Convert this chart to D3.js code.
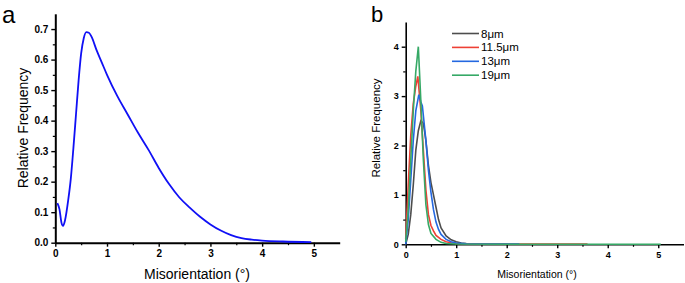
<!DOCTYPE html>
<html>
<head>
<meta charset="utf-8">
<script src="https://cdn.jsdelivr.net/npm/d3@7"></script>
<style>
  body { margin: 0; background: #fff; }
  svg text { font-family: "Liberation Sans", Arial, sans-serif; }
  .tick text { font-weight: bold; fill: #000; }
</style>
</head>
<body>
<div id="chart"></div>
<script>
// Width and height
var w = 685;
var h = 283;

// panel a: overall distribution
var aX = [0.04, 0.08, 0.12, 0.15, 0.19, 0.25, 0.30, 0.35, 0.40, 0.45, 0.50, 0.55, 0.60, 0.65, 0.70, 0.80, 0.90, 1.00,
          1.20, 1.40, 1.60, 1.80, 2.00, 2.20, 2.40, 2.60, 2.80, 3.00, 3.20, 3.40, 3.60, 3.80, 4.00, 4.40, 4.95];
var aY = [0.13, 0.11, 0.065, 0.055, 0.075, 0.14, 0.21, 0.31, 0.42, 0.53, 0.62, 0.67, 0.69, 0.688, 0.675, 0.63, 0.59, 0.55,
          0.48, 0.42, 0.36, 0.305, 0.245, 0.192, 0.148, 0.115, 0.085, 0.06, 0.04, 0.025, 0.015, 0.01, 0.007, 0.004, 0.002];

// panel b: by step size
var bNames = ["8\u03bcm", "11.5\u03bcm", "13\u03bcm", "19\u03bcm"];
var bColors = ["#4d4d4d", "#ee4035", "#2468e0", "#36a966"];

var b8x  = [0, 0.05, 0.1, 0.15, 0.2, 0.25, 0.3, 0.35, 0.4, 0.45, 0.5, 0.55, 0.6, 0.65, 0.7, 0.8, 0.9, 1.0, 1.1, 1.2, 1.5, 2.0];
var b8y  = [0, 0.2, 0.6, 1.2, 1.9, 2.3, 2.5, 2.45, 2.1, 1.6, 1.25, 1.0, 0.75, 0.5, 0.33, 0.17, 0.09, 0.05, 0.025, 0.015, 0.005, 0.002];
var b115x = [0, 0.05, 0.1, 0.15, 0.2, 0.24, 0.3, 0.35, 0.4, 0.45, 0.5, 0.55, 0.6, 0.7, 0.8, 0.9, 1.0, 1.2, 2.0, 3.6];
var b115y = [0.1, 1.2, 2.2, 2.85, 3.2, 3.4, 2.7, 1.9, 1.1, 0.6, 0.38, 0.27, 0.18, 0.1, 0.05, 0.03, 0.015, 0.01, 0.006, 0.005];
var b13x = [0, 0.05, 0.1, 0.15, 0.2, 0.26, 0.3, 0.33, 0.4, 0.45, 0.5, 0.55, 0.6, 0.65, 0.7, 0.8, 0.9, 1.0, 1.2, 2.25];
var b13y = [0, 0.5, 1.3, 2.1, 2.7, 3.03, 2.88, 2.8, 2.1, 1.5, 1.05, 0.7, 0.45, 0.3, 0.2, 0.1, 0.05, 0.025, 0.01, 0.003];
var b19x = [0, 0.05, 0.1, 0.15, 0.2, 0.25, 0.3, 0.35, 0.4, 0.45, 0.5, 0.6, 0.7, 0.8, 1.0, 2.0, 5.05];
var b19y = [0.05, 0.7, 1.7, 2.7, 3.5, 4.0, 2.9, 1.7, 0.8, 0.4, 0.22, 0.1, 0.04, 0.015, 0.005, 0.002, 0.001];

var aTicksY = [0, 0.1, 0.2, 0.3, 0.4, 0.5, 0.6, 0.7];
var bTicksY = [0, 1, 2, 3, 4];
var ticksX = [0, 1, 2, 3, 4, 5];

function zip(xs, ys) {
    return xs.map(function(x, i) { return [x, ys[i]]; });
}
var bSeries = [zip(b8x, b8y), zip(b115x, b115y), zip(b13x, b13y), zip(b19x, b19y)];

var svg = d3.select("#chart")
            .append("svg")
            .attr("width", w)
            .attr("height", h);

function drawAxes(x, y, yMajor, yMinor, xMinor, fmtY, fs, lw) {
    // minor ticks first
    svg.append("g")
        .attr("transform", "translate(0," + y.range()[0] + ")")
        .call(d3.axisBottom(x).tickValues(xMinor).tickSize(2.5).tickFormat(""))
        .call(function(g) { g.select(".domain").remove(); })
        .selectAll("line").attr("stroke-width", 1.2);
    svg.append("g")
        .attr("transform", "translate(" + x.range()[0] + ",0)")
        .call(d3.axisLeft(y).tickValues(yMinor).tickSize(2.5).tickFormat(""))
        .call(function(g) { g.select(".domain").remove(); })
        .selectAll("line").attr("stroke-width", 1.2);

    var gx = svg.append("g")
        .attr("transform", "translate(0," + y.range()[0] + ")")
        .call(d3.axisBottom(x).tickValues(ticksX).tickSize(4).tickSizeOuter(0).tickPadding(3).tickFormat(d3.format("d")));
    gx.select(".domain").attr("stroke-width", lw);
    gx.selectAll("line").attr("stroke-width", 1.4);
    gx.selectAll("text").style("font-size", fs + "px");

    var gy = svg.append("g")
        .attr("transform", "translate(" + x.range()[0] + ",0)")
        .call(d3.axisLeft(y).tickValues(yMajor).tickSize(4).tickSizeOuter(0).tickPadding(3).tickFormat(fmtY));
    gy.select(".domain").attr("stroke-width", lw);
    gy.selectAll("line").attr("stroke-width", 1.4);
    gy.selectAll("text").style("font-size", fs + "px");
}

// ---- panel a ----
var xa = d3.scaleLinear().domain([0, 5.5]).range([55.3, 339.7]);
var ya = d3.scaleLinear().domain([0, 0.75]).range([242.7, 13.8]);

drawAxes(xa, ya, aTicksY, d3.range(0.05, 0.75, 0.1), d3.range(0.5, 5.5, 1), d3.format(".1f"), 10, 2);

var lineA = d3.line()
    .x(function(d) { return xa(d[0]); })
    .y(function(d) { return ya(d[1]); })
    .curve(d3.curveMonotoneX);

svg.append("path")
    .datum(zip(aX, aY))
    .attr("d", lineA)
    .attr("fill", "none")
    .attr("stroke", "#1010f5")
    .attr("stroke-width", 1.8);

svg.append("text")
    .attr("x", 197).attr("y", 279)
    .attr("text-anchor", "middle")
    .style("font-size", "14px")
    .text("Misorientation (\u00b0)");
svg.append("text")
    .attr("transform", "translate(28,128) rotate(-90)")
    .attr("text-anchor", "middle")
    .style("font-size", "14px")
    .text("Relative Frequency");
svg.append("text")
    .attr("x", 2).attr("y", 22.5)
    .style("font-size", "24px")
    .text("a");

// ---- panel b ----
var xb = d3.scaleLinear().domain([0, 5.5]).range([405.7, 683.5]);
var yb = d3.scaleLinear().domain([0, 4.5]).range([244.3, 22]);

drawAxes(xb, yb, bTicksY, [0.5, 1.5, 2.5, 3.5], d3.range(0.5, 5.5, 1), d3.format("d"), 9, 1.6);

var lineB = d3.line()
    .x(function(d) { return xb(d[0]); })
    .y(function(d) { return yb(d[1]); });

svg.selectAll("path.series")
    .data(bSeries)
    .enter()
    .append("path")
    .attr("class", "series")
    .attr("d", lineB)
    .attr("fill", "none")
    .attr("stroke", function(d, i) { return bColors[i]; })
    .attr("stroke-width", 1.6);

// legend
var leg = svg.selectAll("g.leg")
    .data(bNames)
    .enter()
    .append("g")
    .attr("class", "leg")
    .attr("transform", function(d, i) { return "translate(452," + (33.5 + i * 13.9) + ")"; });
leg.append("line")
    .attr("x1", 0).attr("x2", 27)
    .attr("stroke", function(d, i) { return bColors[i]; })
    .attr("stroke-width", 1.6);
leg.append("text")
    .attr("x", 29).attr("y", 4)
    .style("font-size", "11.5px")
    .text(function(d) { return d; });

svg.append("text")
    .attr("x", 537).attr("y", 278)
    .attr("text-anchor", "middle")
    .style("font-size", "10.5px")
    .text("Misorientation (\u00b0)");
svg.append("text")
    .attr("transform", "translate(380,128) rotate(-90)")
    .attr("text-anchor", "middle")
    .style("font-size", "11.5px")
    .text("Relative Frequency");
svg.append("text")
    .attr("x", 371).attr("y", 21.5)
    .style("font-size", "22px")
    .text("b");
</script>
</body>
</html>
